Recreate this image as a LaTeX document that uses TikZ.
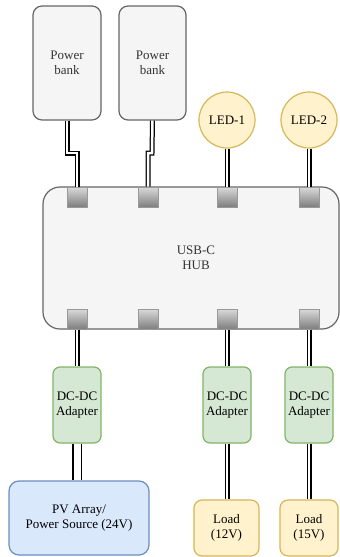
\documentclass[tikz,border=0pt]{standalone}
\usepackage{fontspec}
\setmainfont{Liberation Serif}
\definecolor{gfill}{HTML}{F5F5F5}
\definecolor{gline}{HTML}{666666}
\definecolor{gtext}{HTML}{333333}
\definecolor{yfill}{HTML}{FFF2CC}
\definecolor{yline}{HTML}{D6B656}
\definecolor{grfill}{HTML}{D5E8D4}
\definecolor{grline}{HTML}{82B366}
\definecolor{bfill}{HTML}{DAE8FC}
\definecolor{bline}{HTML}{6C8EBF}
\definecolor{pline}{HTML}{999999}
\definecolor{ptop}{HTML}{DADADA}
\definecolor{pbot}{HTML}{7E7E7E}
\begin{document}
\begin{tikzpicture}[x=1pt,y=-1pt,
  base/.style={align=center, inner sep=0pt, line width=1.2pt, font=\fontsize{13}{15}\selectfont},
  graybox/.style={base, draw=gline, fill=gfill, text=gtext, rounded corners=9pt},
  ledbox/.style={base, circle, draw=yline, fill=yfill, minimum size=56pt},
  adbox/.style={base, draw=grline, fill=grfill, rounded corners=7pt, minimum width=48pt, minimum height=76pt},
  pvbox/.style={base, draw=bline, fill=bfill, rounded corners=10pt},
  loadbox/.style={base, draw=yline, fill=yfill, rounded corners=8pt, minimum height=56pt},
  port/.style={rectangle, draw=pline, line width=1pt, top color=ptop, bottom color=pbot, minimum size=20pt, inner sep=0pt},
  wire/.style={draw=black, double=white, line width=1.25pt, double distance=2.5pt},
  widewire/.style={draw=black, double=white, line width=1.25pt, double distance=7pt}
]
\useasboundingbox (0,0) rectangle (340,557);

% hub
\node[graybox, rounded corners=17pt, minimum width=296pt, minimum height=142pt] (hub) at (191,258) {};
\node[base, text=gtext, anchor=center] (hubtxt) at (196,258) {USB-C\\HUB};

% power banks
\node[graybox, minimum width=68pt, minimum height=114pt] (pb1) at (67,63) {Power\\bank};
\node[graybox, minimum width=67pt, minimum height=114pt] (pb2) at (152.5,63) {Power\\bank};

% LEDs
\node[ledbox] (led1) at (227,120) {LED-1};
\node[ledbox] (led2) at (309,120) {LED-2};

% ports
\node[port] (pt1) at (77,197) {};
\node[port] (pt2) at (148,197) {};
\node[port] (pt3) at (227,197) {};
\node[port] (pt4) at (309,197) {};
\node[port] (pb1p) at (77,319) {};
\node[port] (pb2p) at (148,319) {};
\node[port] (pb3p) at (227,319) {};
\node[port] (pb4p) at (309,319) {};

% adapters
\node[adbox] (ad1) at (77,405) {DC-DC\\Adapter};
\node[adbox] (ad2) at (227,405) {DC-DC\\Adapter};
\node[adbox] (ad3) at (309,405) {DC-DC\\Adapter};

% sources and loads
\node[pvbox, minimum width=140pt, minimum height=74pt] (pv) at (79,518) {PV Array/\\Power Source (24V)};
\node[loadbox, minimum width=65pt] (ld1) at (226.5,528) {Load\\(12V)};
\node[loadbox, minimum width=58pt] (ld2) at (309,528) {Load\\(15V)};

% connectors
\coordinate (j1a) at (67,153);
\coordinate (j1b) at (77,153);
\coordinate (j2a) at (152,153);
\coordinate (j2b) at (148,153);
\draw[wire] (pb1.south) -- (j1a) -- (j1b) -- (pt1.north);
\draw[wire] (pb2.south) -- (j2a) -- (j2b) -- (pt2.north);
\draw[wire] (led1.south) -- (pt3.north);
\draw[wire] (led2.south) -- (pt4.north);
\draw[wire] (pb1p.south) -- (ad1.north);
\draw[wire] (pb3p.south) -- (ad2.north);
\draw[wire] (pb4p.south) -- (ad3.north);
\draw[widewire] (ad1.south) -- (ad1.south |- pv.north);
\draw[wire] (ad2.south) -- (ad2.south |- ld1.north);
\draw[wire] (ad3.south) -- (ld2.north);
\end{tikzpicture}
\end{document}
